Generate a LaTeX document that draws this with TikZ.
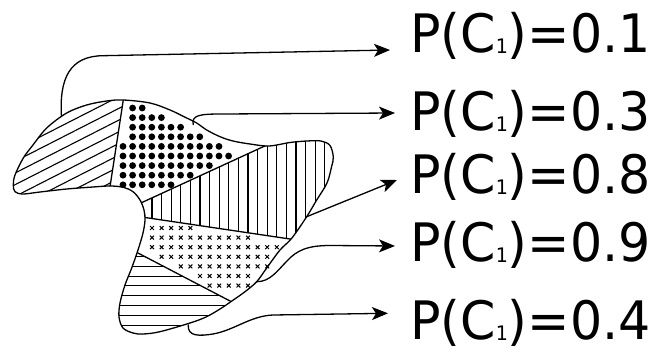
\documentclass[tikz,border=0pt]{standalone}
\usepackage{fontspec}
\usepackage{graphicx}
\newfontfamily\dejavu{DejaVu Sans}
\usetikzlibrary{arrows.meta}
\newcommand\mysubone{\raisebox{-1pt}{\fontsize{20}{20}\selectfont 1}}
\newcommand\mylab[1]{\scalebox{0.955}[1]{#1}}
\tikzset{
  outl/.style={insert path={plot[smooth cycle,tension=0.55] coordinates{
    (123.3,100) (150,103) (170,110) (186.7,118) (196.7,123) (206.7,130) (220,136.7)
    (233,141) (250,144) (269,146) (290,142.5) (307,141) (321,141) (330,145.5)
    (333.3,157) (331.5,167) (327,183) (316.7,200) (306.7,216.7) (291.7,238.3)
    (280,250) (266.7,268) (256.7,281.7) (245,291.7) (233.3,300) (220,309) (206,317)
    (190,323) (160,331.7) (143,334) (133,333) (123,328) (119,317) (120,303)
    (125,285) (131.7,268) (138,250) (143,233) (145,220) (144,210) (140,200)
    (133,191.7) (123.3,187.3) (110,186) (93,187) (66.7,189) (40,192) (23,194)
    (15,191.7) (13.3,185) (15,175) (23.3,158) (33,145) (46.7,128) (66.7,113)
    (86.7,105) (106.7,101)}}},
  edge/.style={line width=1.3pt},
  hatch/.style={line width=1.1pt},
  xm/.style={line width=1pt},
  arr/.style={line width=1.3pt,-{Stealth[length=16pt,width=13pt,inset=4pt]}},
  lab/.style={inner sep=0pt,anchor=base west,font=\dejavu\fontsize{53}{53}\selectfont}
}
\begin{document}
\begin{tikzpicture}[x=1pt,y=-1pt]
\useasboundingbox (0,0) rectangle (656,350);
% diagonal hatch (wing)
\begin{scope}
  \clip[outl];
  \clip (0,0) -- (138.7,0) -- (103.3,230) -- (0,230) -- cycle;
  \foreach \k in {-5,...,7}
    \draw[hatch] (0,{180.7+11.7*\k}) -- (200,{180.7+11.7*\k-102});
\end{scope}
% vertical hatch
\begin{scope}
  \clip[outl];
  \clip (118.1,213.5) -- (400,83.8) -- (400,255.3) -- cycle;
  \foreach \k in {0,...,19}
    \draw[hatch] ({152+9.6*\k},60) -- ++(0,220);
\end{scope}
% horizontal hatch
\begin{scope}
  \clip[outl];
  \clip (100,233.2) -- (330,353.1) -- (100,353.1) -- cycle;
  \foreach \k in {0,...,8}
    \draw[hatch] (100,{256.5+9.8*\k}) -- ++(250,0);
\end{scope}
% dots
\foreach \j/\a/\b in {0/1/2,1/1/4,2/1/6,3/1/8,4/0/10,5/0/11,6/0/9,7/0/7,8/0/5}
  \foreach \k in {\a,...,\b}
    \fill ({123+9.6*\k},{108+9.6*\j}) circle[radius=3.4pt];
% crosses
\foreach \j/\a/\b in {0/0/4,1/0/10,2/0/13,3/1/12,4/3/12,5/5/10,6/6/10}
  \foreach \k in {\a,...,\b}
    \draw[xm] ({152+9.6*\k-1.9},{228+9.6*\j-1.9}) -- ++(3.8,3.8) ++(0,-3.8) -- ++(-3.8,3.8);
% outline and dividing lines
\draw[edge, line join=round][outl];
\begin{scope}
  \clip[outl];
  \draw[edge] (124.2,94) -- (109.2,192);
  \draw[edge] (280,139) -- (130,208);
  \draw[edge] (135,216) -- (300,240.5);
  \draw[edge] (128,247.8) -- (240,306.2);
\end{scope}
% labels
\node[lab] (t1) at (410,52.7) {\mylab{P(C\mysubone)=0.1}};
\node[lab] (t2) at (410,130.7) {\mylab{P(C\mysubone)=0.3}};
\node[lab] (t3) at (410,193.3) {\mylab{P(C\mysubone)=0.8}};
\node[lab] (t4) at (410,261.7) {\mylab{P(C\mysubone)=0.9}};
\node[lab] (t5) at (410,339.5) {\mylab{P(C\mysubone)=0.4}};
% connector ends
\coordinate (s1) at (61.5,117);
\coordinate (s2) at (193.3,125);
\coordinate (s3) at (306.7,216.7);
\coordinate (s4) at (256.7,281.7);
\coordinate (s5) at (188.3,324.5);
\coordinate (e1) at (390,50);
\coordinate (e2) at (395,113);
\coordinate (e3) at (397,180);
\coordinate (e4) at (395,246);
\coordinate (e5) at (388,313.3);
\draw[arr] (s1) .. controls (59,78) and (70,56) .. (103,55.7) -- (e1);
\draw[arr] (s2) .. controls (191,115) and (200,114) .. (222,114) -- (e2);
\draw[arr] (s3) -- (e3);
\draw[arr] (s4) .. controls (270,282) and (278,270) .. (287,261) .. controls (297,250) and (308,245.5) .. (330,245.5) -- (e4);
\draw[arr] (s5) .. controls (187,337) and (200,336) .. (213,334) .. controls (235,330) and (250,316) .. (273,315) -- (e5);
\end{tikzpicture}
\end{document}
